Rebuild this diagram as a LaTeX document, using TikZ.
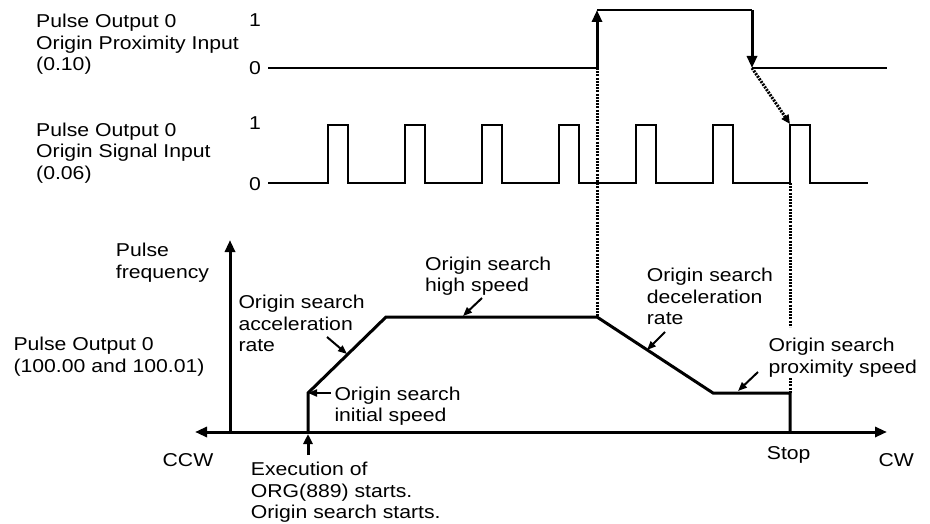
\documentclass[tikz,border=0pt]{standalone}
\usepackage{fontspec}
\setmainfont[FakeStretch=1.14]{Liberation Sans}
\usetikzlibrary{arrows.meta}
\begin{document}
\begin{tikzpicture}[x=1pt,y=-1pt,
  txt/.style={font=\fontsize{18.6}{21.5}\selectfont, inner sep=0pt, anchor=north west, align=left},
  num/.style={font=\fontsize{18.6}{21.5}\selectfont, inner sep=0pt, anchor=north},
  sig/.style={line width=2pt},
  thk/.style={line width=3pt, line join=miter},
  dotl/.style={line width=3pt, dash pattern=on 2pt off 1.2pt},
  bigtip/.style={-{Triangle[length=12pt,width=10pt]}},
  lblarrow/.style={line width=2pt,-{Triangle[length=9pt,width=7pt]}}]
\useasboundingbox (0,0) rectangle (930,524);

% ---- labels of the two input signals
\node[txt] (lprox) at (36,14) {Pulse Output 0\\Origin Proximity Input\\(0.10)};
\node[num] (p1) at (255,13.5) {1};
\node[num] (p0) at (255,61) {0};
\node[txt] (lsig) at (36,122.7) {Pulse Output 0\\Origin Signal Input\\(0.06)};
\node[num] (s1) at (255,117) {1};
\node[num] (s0) at (255,177) {0};

% ---- proximity input
\coordinate (a0) at (268,68);
\coordinate (ar) at (597,68);
\coordinate (art) at (597,10);
\coordinate (aft) at (752,10);
\coordinate (af) at (752,68);
\coordinate (ae) at (887,68);

% ---- origin signal
\draw[sig] (268,183) \foreach \p in {328,405,482,559,636,713,790}{ -- (\p,183) -- (\p,125) -- (\p+20,125) -- (\p+20,183)} -- (868,183);
\coordinate (pulsetop) at (790,124);
\coordinate (pulsebot) at (790,183);

% ---- speed profile
\coordinate (s0) at (308,432);
\coordinate (sinit) at (308,393);
\coordinate (shigh1) at (386,317);
\coordinate (shigh2) at (597,317);
\coordinate (sprox1) at (713,393);
\coordinate (sprox2) at (790,393);
\coordinate (sstop) at (790,432);

% dotted guides
\draw[dotl] (ar) -- (shigh2);
\coordinate (g1) at (790,327);
\coordinate (g2) at (790,378);
\draw[dotl] (pulsebot) -- (g1);
\draw[dotl] (g2) -- (sprox2);
\draw[dotl,-{Triangle[length=9pt,width=8pt]}] (af) -- (pulsetop);

\draw[sig] (a0) -- (ar);
\draw[thk,bigtip] (ar) -- (art);
\draw[sig] (art) -- (aft);
\draw[thk,bigtip] (aft) -- (af);
\draw[sig] (af) -- (ae);

% axes
\coordinate (xl) at (195,432);
\coordinate (xr) at (887,432);
\coordinate (yo) at (230,432);
\coordinate (yt) at (230,240);
\draw[thk,{Triangle[length=12pt,width=10pt]}-{Triangle[length=12pt,width=10pt]}] (xl) -- (xr);
\draw[thk,bigtip] (yo) -- (yt);

\draw[thk] (s0) -- (sinit) -- (shigh1) -- (shigh2) -- (sprox1) -- (sprox2) -- (sstop);

\coordinate (startarr) at (308,455);
\draw[thk,-{Triangle[length=10pt,width=9pt]}] (startarr) -- (308,434);

% ---- texts of the profile
\node[txt] (pf) at (115.7,243.3) {Pulse\\frequency};
\node[txt] (po) at (13.3,337.3) {Pulse Output 0\\(100.00 and 100.01)};
\node[txt] (acc) at (238.3,295) {Origin search\\acceleration\\rate};
\node[txt] (ini) at (334.3,386.7) {Origin search\\initial speed};
\node[txt] (hs) at (425,256.7) {Origin search\\high speed};
\node[txt] (dec) at (646.7,268.3) {Origin search\\deceleration\\rate};
\node[txt] (prs) at (768.3,338.3) {Origin search\\proximity speed};
\node[txt] (exe) at (250.7,462.3) {Execution of\\ORG(889) starts.\\Origin search starts.};
\node[num] (ccw) at (188,453.3) {CCW};
\node[txt] (stop) at (766.7,446) {Stop};
\node[txt] (cw) at (878.3,453.3) {CW};

% label arrows
\coordinate (acc1) at (327,337); \coordinate (acc2) at (347,354);
\draw[lblarrow] (acc1) -- (acc2);
\coordinate (ini1) at (331,393);
\draw[lblarrow] (ini1) -- (sinit);
\coordinate (hs1) at (482,298); \coordinate (hs2) at (463,316);
\draw[lblarrow] (hs1) -- (hs2);
\coordinate (dec1) at (665,332); \coordinate (dec2) at (647,350);
\draw[lblarrow] (dec1) -- (dec2);
\coordinate (pr1) at (758,372); \coordinate (pr2) at (738,391);
\draw[lblarrow] (pr1) -- (pr2);
\end{tikzpicture}
\end{document}
